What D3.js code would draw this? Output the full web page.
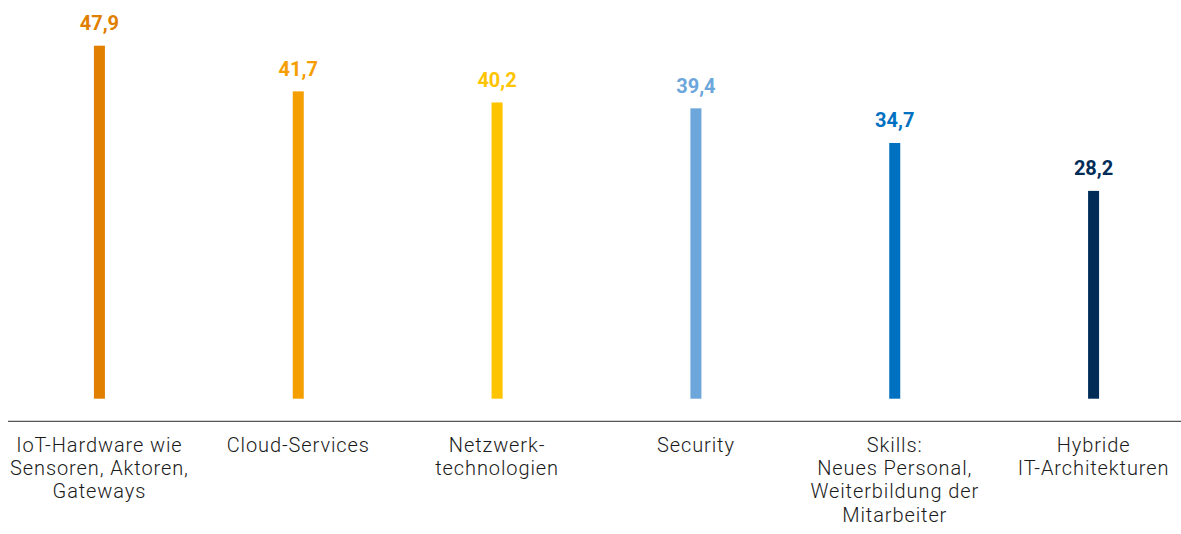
<!DOCTYPE html>
<html>
<head>
<meta charset="utf-8">
<script src="https://cdn.jsdelivr.net/npm/d3@7"></script>
<style>
  html, body { margin: 0; padding: 0; background: #fff; }
  svg { display: block; }
</style>
</head>
<body>
<svg id="chart" width="1181" height="534"></svg>
<script>
// Category labels (line-broken) and percentage values
const categories = [
  ["IoT-Hardware wie", "Sensoren, Aktoren,", "Gateways"],
  ["Cloud-Services"],
  ["Netzwerk-", "technologien"],
  ["Security"],
  ["Skills:", "Neues Personal,", "Weiterbildung der", "Mitarbeiter"],
  ["Hybride", "IT-Architekturen"]
];
const values = [47.9, 41.7, 40.2, 39.4, 34.7, 28.2];
const valueLabels = ["47,9", "41,7", "40,2", "39,4", "34,7", "28,2"];
const colors = ["#E07F00", "#F59E00", "#FFC400", "#6CA6DA", "#0071C0", "#002C57"];

const svg = d3.select("#chart");
const baseY = 398.7;
const axisY = 421.3;
const barW = 11;

const x = d3.scaleBand()
  .domain(d3.range(values.length))
  .range([0, 1193])
  .paddingInner(0)
  .paddingOuter(0);

const y = d3.scaleLinear()
  .domain([0, 47.9])
  .range([baseY, 45.7]);

const cx = i => x(i) + x.bandwidth() / 2;

// Bars
svg.append("g").selectAll("rect")
  .data(values)
  .join("rect")
  .attr("x", (d, i) => cx(i) - barW / 2)
  .attr("y", d => y(d))
  .attr("width", barW)
  .attr("height", d => baseY - y(d))
  .attr("fill", (d, i) => colors[i]);

// Value labels above bars
svg.append("g").selectAll("text")
  .data(values)
  .join("text")
  .attr("x", (d, i) => cx(i))
  .attr("y", d => y(d) - 15.7)
  .attr("text-anchor", "middle")
  .attr("font-family", "Roboto, sans-serif")
  .attr("font-weight", 700)
  .attr("font-size", 20)
  .attr("fill", (d, i) => colors[i])
  .text((d, i) => valueLabels[i]);

// Baseline axis
svg.append("line")
  .attr("x1", 8).attr("x2", 1181)
  .attr("y1", axisY).attr("y2", axisY)
  .attr("stroke", "#555")
  .attr("stroke-width", 1.3);

// Category labels below the axis
const labelG = svg.append("g");
categories.forEach((lines, i) => {
  const t = labelG.append("text")
    .attr("x", cx(i))
    .attr("y", 451.7)
    .attr("text-anchor", "middle")
    .attr("font-family", "Roboto, sans-serif")
    .attr("font-weight", 300)
    .attr("font-size", 20)
    .attr("letter-spacing", 0.9)
    .attr("fill", "#1a1a1a");
  lines.forEach((ln, j) => {
    t.append("tspan")
      .attr("x", cx(i))
      .attr("dy", j === 0 ? 0 : 23.3)
      .text(ln);
  });
});
</script>
</body>
</html>
